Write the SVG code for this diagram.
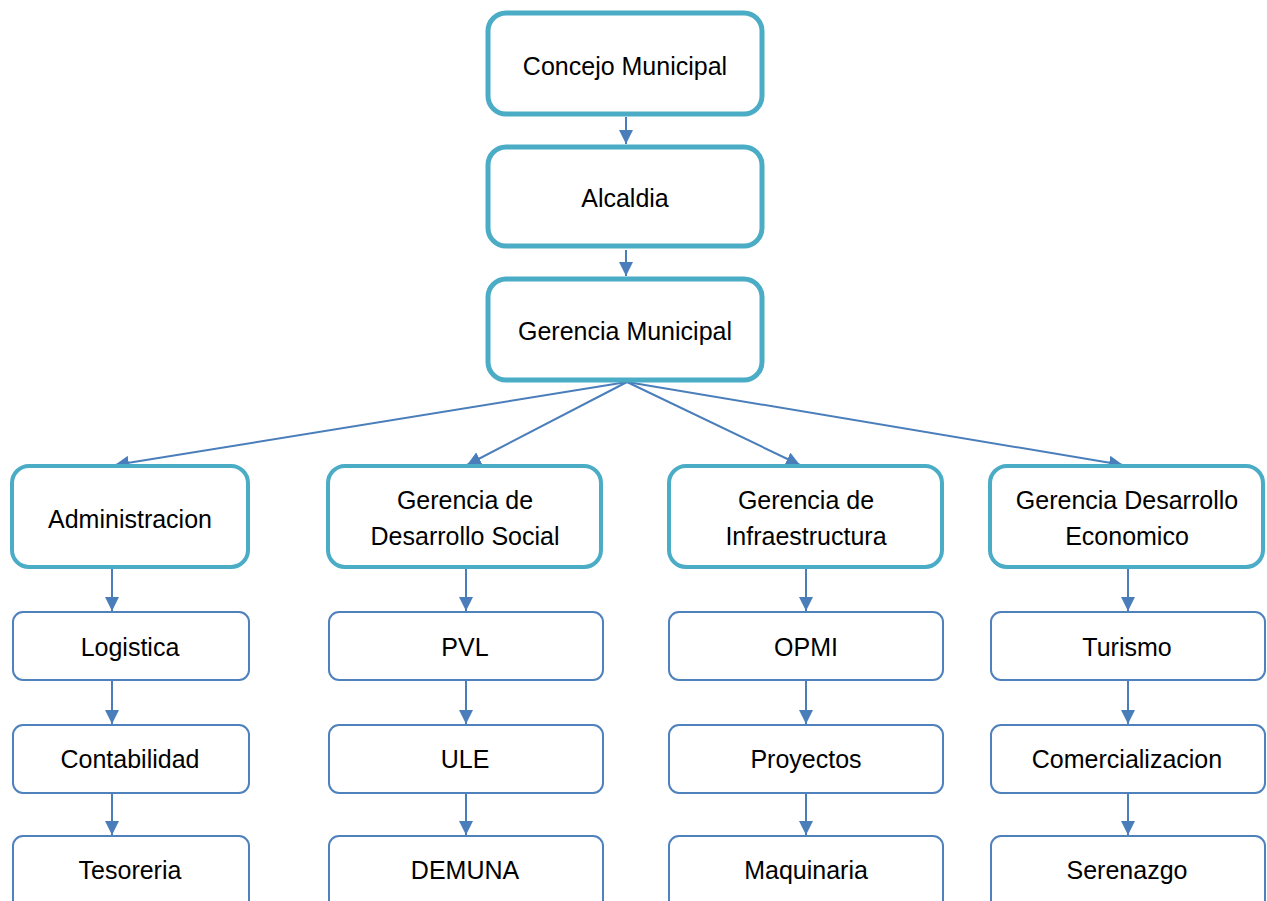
<svg xmlns="http://www.w3.org/2000/svg" width="1267" height="901" viewBox="0 0 1267 901">
  <style>
    .top { fill: #ffffff; stroke: #4BACC6; stroke-width: 5; }
    .mid { fill: #ffffff; stroke: #4BACC6; stroke-width: 4; }
    .low { fill: #ffffff; stroke: #4F81BD; stroke-width: 2; }
    .lbl { font-family: "Liberation Sans", Arial, sans-serif; font-size: 25px; fill: #000000; text-anchor: middle; dominant-baseline: central; }
    .con { stroke: #4A7EBB; stroke-width: 2; fill: none; marker-end: url(#arrow); }
  </style>
  <defs>
    <marker id="arrow" viewBox="0 0 14 14" refX="14" refY="7" markerWidth="14" markerHeight="14" markerUnits="userSpaceOnUse" orient="auto">
      <path d="M0,0 L14,7 L0,14 Z" fill="#4A7EBB"/>
    </marker>
  </defs>
  <rect width="1267" height="901" fill="#ffffff"/>

  <!-- connectors -->
  <g id="connectors">
    <line class="con" x1="626" y1="117" x2="626" y2="144"/>
    <line class="con" x1="626" y1="250" x2="626" y2="276"/>
    <line class="con" x1="627" y1="382" x2="115" y2="465"/>
    <line class="con" x1="627" y1="382" x2="467" y2="465"/>
    <line class="con" x1="627" y1="382" x2="800" y2="465"/>
    <line class="con" x1="627" y1="382" x2="1123" y2="465"/>

    <line class="con" x1="112" y1="569" x2="112" y2="611"/>
    <line class="con" x1="112" y1="681" x2="112" y2="724"/>
    <line class="con" x1="112" y1="793" x2="112" y2="835"/>

    <line class="con" x1="466" y1="569" x2="466" y2="611"/>
    <line class="con" x1="466" y1="681" x2="466" y2="724"/>
    <line class="con" x1="466" y1="793" x2="466" y2="835"/>

    <line class="con" x1="806" y1="569" x2="806" y2="611"/>
    <line class="con" x1="806" y1="681" x2="806" y2="724"/>
    <line class="con" x1="806" y1="793" x2="806" y2="835"/>

    <line class="con" x1="1128" y1="569" x2="1128" y2="611"/>
    <line class="con" x1="1128" y1="681" x2="1128" y2="724"/>
    <line class="con" x1="1128" y1="793" x2="1128" y2="835"/>
  </g>

  <!-- top chain -->
  <g id="concejo">
    <rect class="top" x="488" y="13" width="274" height="101" rx="18"/>
    <text class="lbl" x="625" y="66">Concejo Municipal</text>
  </g>
  <g id="alcaldia">
    <rect class="top" x="488" y="147" width="274" height="99" rx="18"/>
    <text class="lbl" x="625" y="198">Alcaldia</text>
  </g>
  <g id="gerencia-municipal">
    <rect class="top" x="488" y="279" width="274" height="101" rx="18"/>
    <text class="lbl" x="625" y="331">Gerencia Municipal</text>
  </g>

  <!-- second level -->
  <g id="administracion">
    <rect class="mid" x="12" y="466" width="236" height="101" rx="17"/>
    <text class="lbl" x="130" y="519">Administracion</text>
  </g>
  <g id="desarrollo-social">
    <rect class="mid" x="328" y="466" width="273" height="101" rx="17"/>
    <text class="lbl" x="465" y="500">Gerencia de</text>
    <text class="lbl" x="465" y="536">Desarrollo Social</text>
  </g>
  <g id="infraestructura">
    <rect class="mid" x="669" y="466" width="273" height="101" rx="17"/>
    <text class="lbl" x="806" y="500">Gerencia de</text>
    <text class="lbl" x="806" y="536">Infraestructura</text>
  </g>
  <g id="desarrollo-economico">
    <rect class="mid" x="990" y="466" width="273" height="101" rx="17"/>
    <text class="lbl" x="1127" y="500">Gerencia Desarrollo</text>
    <text class="lbl" x="1127" y="536">Economico</text>
  </g>

  <!-- third level: Administracion -->
  <g id="logistica">
    <rect class="low" x="13" y="612" width="236" height="68" rx="10"/>
    <text class="lbl" x="130" y="647">Logistica</text>
  </g>
  <g id="contabilidad">
    <rect class="low" x="13" y="725" width="236" height="68" rx="10"/>
    <text class="lbl" x="130" y="759">Contabilidad</text>
  </g>
  <g id="tesoreria">
    <rect class="low" x="13" y="836" width="236" height="80" rx="10"/>
    <text class="lbl" x="130" y="870">Tesoreria</text>
  </g>

  <!-- third level: Desarrollo Social -->
  <g id="pvl">
    <rect class="low" x="329" y="612" width="274" height="68" rx="10"/>
    <text class="lbl" x="465" y="647">PVL</text>
  </g>
  <g id="ule">
    <rect class="low" x="329" y="725" width="274" height="68" rx="10"/>
    <text class="lbl" x="465" y="759">ULE</text>
  </g>
  <g id="demuna">
    <rect class="low" x="329" y="836" width="274" height="80" rx="10"/>
    <text class="lbl" x="465" y="870">DEMUNA</text>
  </g>

  <!-- third level: Infraestructura -->
  <g id="opmi">
    <rect class="low" x="669" y="612" width="274" height="68" rx="10"/>
    <text class="lbl" x="806" y="647">OPMI</text>
  </g>
  <g id="proyectos">
    <rect class="low" x="669" y="725" width="274" height="68" rx="10"/>
    <text class="lbl" x="806" y="759">Proyectos</text>
  </g>
  <g id="maquinaria">
    <rect class="low" x="669" y="836" width="274" height="80" rx="10"/>
    <text class="lbl" x="806" y="870">Maquinaria</text>
  </g>

  <!-- third level: Desarrollo Economico -->
  <g id="turismo">
    <rect class="low" x="991" y="612" width="274" height="68" rx="10"/>
    <text class="lbl" x="1127" y="647">Turismo</text>
  </g>
  <g id="comercializacion">
    <rect class="low" x="991" y="725" width="274" height="68" rx="10"/>
    <text class="lbl" x="1127" y="759">Comercializacion</text>
  </g>
  <g id="serenazgo">
    <rect class="low" x="991" y="836" width="274" height="80" rx="10"/>
    <text class="lbl" x="1127" y="870">Serenazgo</text>
  </g>
</svg>
